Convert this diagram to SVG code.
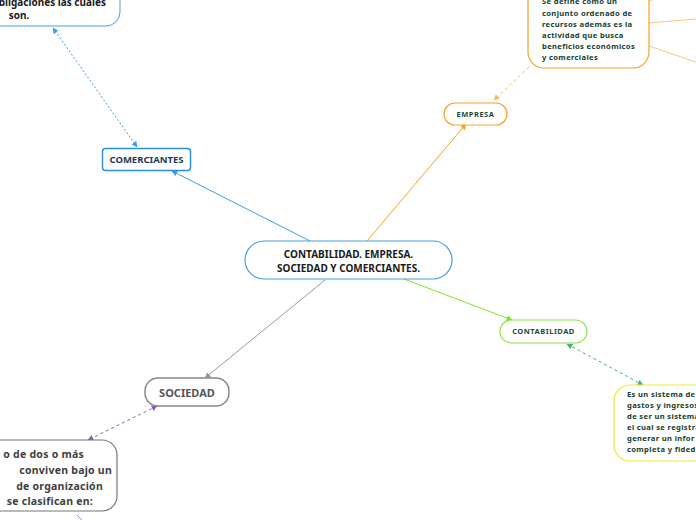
<svg xmlns="http://www.w3.org/2000/svg" width="696" height="520" viewBox="0 0 696 520">
<style>
.t{font-family:"Noto Sans","Open Sans","DejaVu Sans",sans-serif;font-weight:bold}
.box{fill:#fff}
.c{fill:none;stroke-width:1}
</style>
<defs>
<marker id="aBlue" viewBox="0 0 10 10" refX="9" refY="5" markerWidth="6" markerHeight="6" markerUnits="userSpaceOnUse" orient="auto-start-reverse"><path d="M0,0 L10,5 L0,10 z" fill="#3a9fe0"/></marker>
<marker id="aOr" viewBox="0 0 10 10" refX="9" refY="5" markerWidth="6" markerHeight="6" markerUnits="userSpaceOnUse" orient="auto-start-reverse"><path d="M0,0 L10,5 L0,10 z" fill="#f7a12a"/></marker>
<marker id="aOrL" viewBox="0 0 10 10" refX="9" refY="5" markerWidth="6" markerHeight="6" markerUnits="userSpaceOnUse" orient="auto-start-reverse"><path d="M0,0 L10,5 L0,10 z" fill="#f8b860"/></marker>
<marker id="aGr" viewBox="0 0 10 10" refX="9" refY="5" markerWidth="6" markerHeight="6" markerUnits="userSpaceOnUse" orient="auto-start-reverse"><path d="M0,0 L10,5 L0,10 z" fill="#7fe02a"/></marker>
<marker id="aGrD" viewBox="0 0 10 10" refX="9" refY="5" markerWidth="6" markerHeight="6" markerUnits="userSpaceOnUse" orient="auto-start-reverse"><path d="M0,0 L10,5 L0,10 z" fill="#3fb86a"/></marker>
<marker id="aGy" viewBox="0 0 10 10" refX="9" refY="5" markerWidth="6" markerHeight="6" markerUnits="userSpaceOnUse" orient="auto-start-reverse"><path d="M0,0 L10,5 L0,10 z" fill="#9a9a9a"/></marker>
<marker id="aPu" viewBox="0 0 10 10" refX="9" refY="5" markerWidth="6" markerHeight="6" markerUnits="userSpaceOnUse" orient="auto-start-reverse"><path d="M0,0 L10,5 L0,10 z" fill="#8a5cb8"/></marker>
</defs>

<g id="connectors">
<path class="c" d="M310,241 L172,171" stroke="#3a9fe0" marker-end="url(#aBlue)"/>
<path class="c" d="M137,147 L53,28" stroke="#3a9fe0" stroke-dasharray="2,2" marker-start="url(#aBlue)" marker-end="url(#aBlue)"/>
<path class="c" d="M367,241 L466,124" stroke="#f7a12a" marker-end="url(#aOr)"/>
<path class="c" d="M529,67 L494,100" stroke="#f8b860" stroke-dasharray="3,3" marker-end="url(#aOrL)"/>
<path class="c" d="M649,23 L696,19" stroke="#f8c880"/>
<path class="c" d="M649,46 L696,62" stroke="#f8c880"/>
<path class="c" d="M646,3 L662,-5" stroke="#f8c880"/>
<path class="c" d="M404,279 L512,320" stroke="#7fe02a" marker-end="url(#aGr)"/>
<path class="c" d="M567,344 L643,385" stroke="#3fb86a" stroke-dasharray="3,3" marker-start="url(#aGrD)" marker-end="url(#aGrD)"/>
<path class="c" d="M325,280 L205,378" stroke="#9a9a9a" marker-end="url(#aGy)"/>
<path class="c" d="M157,406 L88,440" stroke="#8a5cb8" stroke-dasharray="3,3" marker-start="url(#aPu)" marker-end="url(#aPu)"/>
<path class="c" d="M77,515 L84,522" stroke="#8a8ae8"/>
</g>

<g id="central">
<rect class="box" x="245" y="241" width="207" height="38" rx="19" stroke="#4a9fe0" stroke-width="1.2"/>
<text class="t" x="348.5" y="258" font-size="10" fill="#1a1a1a" text-anchor="middle">CONTABILIDAD. EMPRESA.</text>
<text class="t" x="348.5" y="272" font-size="10" fill="#1a1a1a" text-anchor="middle">SOCIEDAD Y COMERCIANTES.</text>
</g>

<g id="comerciantes">
<rect class="box" x="102.5" y="148.5" width="88" height="22" rx="3" stroke="#2b8fe0" stroke-width="1.5"/>
<text class="t" x="146.5" y="163" font-size="9.5" fill="#1b3a5c" text-anchor="middle">COMERCIANTES</text>
</g>

<g id="comerciantes-desc">
<rect class="box" x="-80" y="-30" width="200" height="56" rx="14" stroke="#4a9fe0" stroke-width="1"/>
<text class="t" x="106" y="6" font-size="10" fill="#1a1a1a" text-anchor="end">obligaciones las cuales</text>
<text class="t" x="19" y="19" font-size="10" fill="#1a1a1a" text-anchor="middle">son.</text>
</g>

<g id="empresa">
<rect class="box" x="444" y="103" width="63" height="22" rx="11" stroke="#f7a12a" stroke-width="1.2"/>
<text class="t" x="475.5" y="117" font-size="7.5" letter-spacing="0.5" fill="#1d4a3a" text-anchor="middle">EMPRESA</text>
</g>

<g id="empresa-desc">
<rect class="box" x="528" y="-20" width="121" height="88" rx="16" stroke="#f7a12a" stroke-width="1.2"/>
<g class="t" font-size="7.6" letter-spacing="0.35" fill="#153d2c">
<text x="542" y="4">Se define como un</text>
<text x="542" y="16">conjunto ordenado de</text>
<text x="542" y="27">recursos además es la</text>
<text x="542" y="38">actividad que busca</text>
<text x="542" y="49">beneficios económicos</text>
<text x="542" y="60">y comerciales</text>
</g>
</g>

<g id="contabilidad">
<rect class="box" x="500" y="320" width="87" height="23" rx="11.5" stroke="#8be04a" stroke-width="1.2"/>
<text class="t" x="543.5" y="334" font-size="7.5" letter-spacing="0.5" fill="#1d4a3a" text-anchor="middle">CONTABILIDAD</text>
</g>

<g id="contabilidad-desc">
<rect class="box" x="614" y="385" width="120" height="76" rx="16" stroke="#f0e830" stroke-width="1.2"/>
<g class="t" font-size="7.6" letter-spacing="0.35" fill="#153d2c">
<text x="627" y="397">Es un sistema de</text>
<text x="627" y="408">gastos y ingresos</text>
<text x="627" y="419">de ser un sistema</text>
<text x="627" y="430">el cual se registra</text>
<text x="627" y="441">generar un infor</text>
<text x="627" y="452">completa y fidedi</text>
</g>
</g>

<g id="sociedad">
<rect class="box" x="145" y="378" width="84" height="28" rx="13" stroke="#888" stroke-width="1.5"/>
<text class="t" x="187" y="397" font-size="11" fill="#555" text-anchor="middle">SOCIEDAD</text>
</g>

<g id="sociedad-desc">
<rect class="box" x="-90" y="440" width="207" height="71" rx="15" stroke="#777" stroke-width="1.2"/>
<g class="t" font-size="10.5" letter-spacing="0.25" fill="#404040" text-anchor="end">
<text x="84" y="458">o de dos o más</text>
<text x="112" y="474">conviven bajo un</text>
<text x="103" y="490">de organización</text>
<text x="93" y="505">se clasifican en:</text>
</g>
</g>
</svg>
